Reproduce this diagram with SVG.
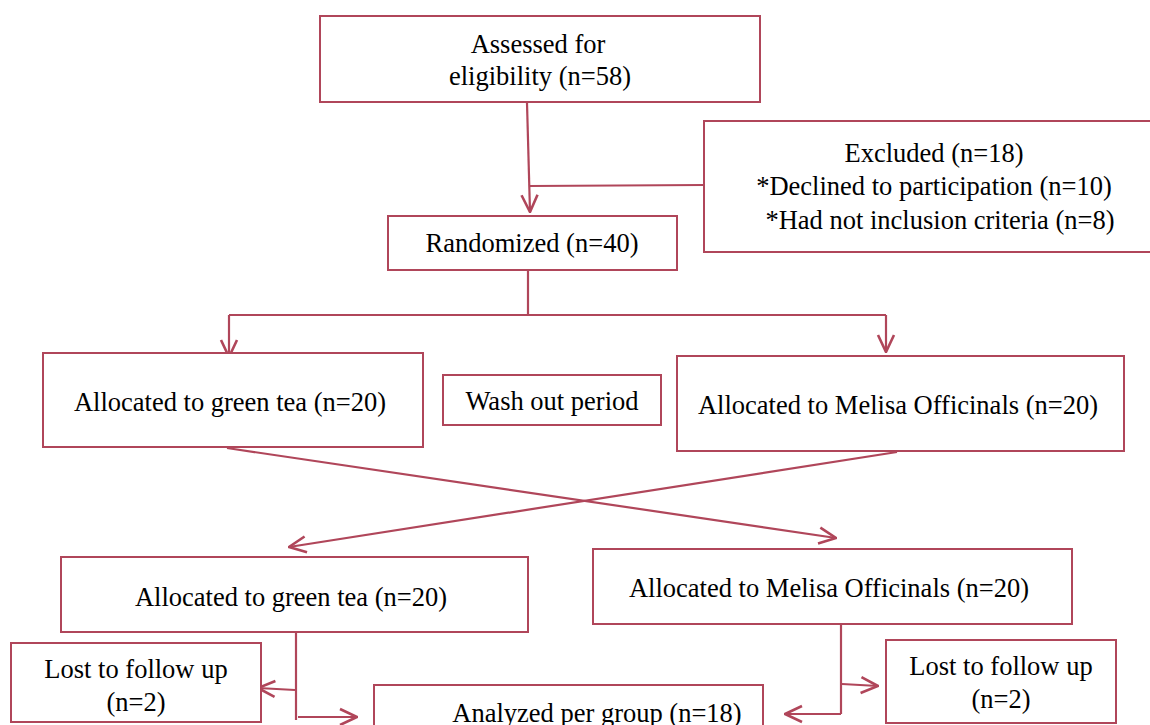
<svg xmlns="http://www.w3.org/2000/svg" width="1150" height="725" viewBox="0 0 1150 725">
<style>
.b{fill:#fff;stroke:#b0465a;stroke-width:2}
.c{fill:none;stroke:#b0465a;stroke-width:2.2}
text{font-family:"Liberation Serif","Times New Roman",serif;font-size:26.5px;fill:#000;text-anchor:middle}
</style>
<defs>
<marker id="a" viewBox="0 0 20 20" refX="19" refY="10" markerWidth="20" markerHeight="20" markerUnits="userSpaceOnUse" orient="auto">
<path d="M2,2 L19,10 L2,18" fill="none" stroke="#b0465a" stroke-width="2.6"/>
</marker>
</defs>
<rect width="1150" height="725" fill="#fff"/>
<g id="connectors">
<path class="c" d="M527,103 L530,212" marker-end="url(#a)"/>
<path class="c" d="M530,186 L704,185"/>
<path class="c" d="M528,270 V315 M229,315 H886"/>
<path class="c" d="M229,315 V357" marker-end="url(#a)"/>
<path class="c" d="M886,315 V352" marker-end="url(#a)"/>
<path class="c" d="M227,448 L836,538" marker-end="url(#a)"/>
<path class="c" d="M897,452 L289,547" marker-end="url(#a)"/>
<path class="c" d="M296,631 V720"/>
<path class="c" d="M295,690 L258,688" marker-end="url(#a)"/>
<path class="c" d="M298,717 L357,717" marker-end="url(#a)"/>
<path class="c" d="M841,623 V714"/>
<path class="c" d="M842,684 L878,686" marker-end="url(#a)"/>
<path class="c" d="M841,714 L785,714" marker-end="url(#a)"/>
</g>
<g id="assessed"><rect class="b" x="320" y="16" width="440" height="86"/><text x="538" y="53">Assessed for</text><text x="540" y="85">eligibility (n=58)</text></g>
<g id="excluded"><rect class="b" x="704" y="121" width="460" height="131"/><text x="934" y="162">Excluded (n=18)</text><text x="934" y="195">*Declined to participation (n=10)</text><text x="940" y="229">*Had not inclusion criteria (n=8)</text></g>
<g id="randomized"><rect class="b" x="388" y="216" width="289" height="54"/><text x="532" y="252">Randomized (n=40)</text></g>
<g id="green1"><rect class="b" x="43" y="353" width="380" height="94"/><text x="230" y="411">Allocated to green tea (n=20)</text></g>
<g id="washout"><rect class="b" x="443" y="375" width="218" height="50"/><text x="552" y="410">Wash out period</text></g>
<g id="melisa1"><rect class="b" x="677" y="356" width="447" height="95"/><text x="898" y="414">Allocated to Melisa Officinals (n=20)</text></g>
<g id="green2"><rect class="b" x="61" y="557" width="467" height="75"/><text x="291" y="606">Allocated to green tea (n=20)</text></g>
<g id="melisa2"><rect class="b" x="593" y="549" width="479" height="75"/><text x="829" y="597">Allocated to Melisa Officinals (n=20)</text></g>
<g id="lost1"><rect class="b" x="11" y="643" width="250" height="79"/><text x="136" y="678">Lost to follow up</text><text x="136" y="711">(n=2)</text></g>
<g id="analyzed"><rect class="b" x="374" y="685" width="389" height="60"/><text x="597" y="722">Analyzed per group (n=18)</text></g>
<g id="lost2"><rect class="b" x="886" y="640" width="230" height="83"/><text x="1001" y="675">Lost to follow up</text><text x="1001" y="708">(n=2)</text></g>
</svg>
